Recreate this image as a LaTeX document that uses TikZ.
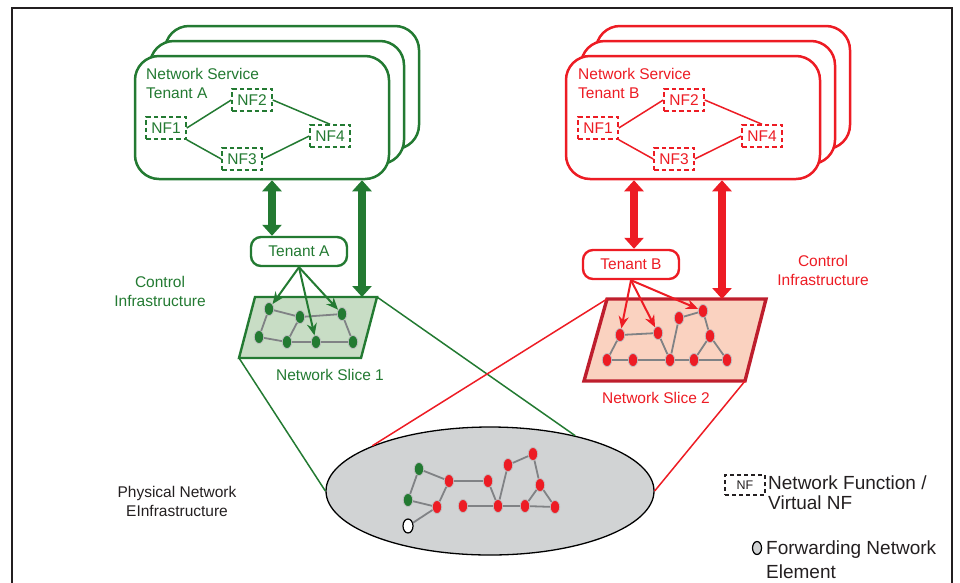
\documentclass[tikz,border=0pt]{standalone}
\usepackage{fontspec}
\setmainfont{Liberation Sans}
\usetikzlibrary{arrows.meta,shapes.geometric}
\definecolor{grA}{RGB}{35,122,50}
\definecolor{rdB}{RGB}{237,28,36}
\definecolor{rdS}{RGB}{190,30,45}
\definecolor{fillA}{RGB}{200,221,197}
\definecolor{fillB}{RGB}{250,210,192}
\definecolor{phyg}{RGB}{209,211,212}
\definecolor{wireg}{RGB}{128,130,133}
\definecolor{ink}{RGB}{35,31,32}
\tikzset{
	frame/.style={draw=ink, line width=2.6pt},
	stackA/.style={draw=grA, line width=2.5pt, fill=white, rounded corners=24pt, minimum width=254pt, minimum height=123pt, inner sep=0pt},
	stackB/.style={stackA, draw=rdB},
	nfA/.style={draw=grA, dash pattern=on 4.5pt off 3pt, line width=1.5pt, minimum width=40pt, minimum height=22pt, inner sep=0pt, text=grA},
	nfB/.style={nfA, draw=rdB, text=rdB},
	tenantA/.style={draw=grA, line width=2.4pt, rounded corners=10pt, minimum width=96pt, minimum height=29pt, inner sep=0pt, text=grA, fill=white},
	tenantB/.style={tenantA, draw=rdB, text=rdB},
	bigA/.style={draw=grA, line width=8.5pt, <->, >={Triangle[length=11pt,width=19pt]}},
	bigB/.style={bigA, draw=rdB},
	pickA/.style={draw=grA, line width=2pt, ->, >={Stealth[length=12pt,width=10pt]}},
	pickB/.style={pickA, draw=rdB},
	dotA/.style={ellipse, fill=grA, draw=wireg!50, line width=0.8pt, minimum width=9.5pt, minimum height=13pt, inner sep=0pt},
	dotB/.style={dotA, fill=rdB},
	wire/.style={draw=wireg, line width=1.8pt},
	linkA/.style={draw=grA, line width=1.5pt},
	linkB/.style={draw=rdB, line width=1.5pt}
}
\begin{document}
\begin{tikzpicture}[x=1pt,y=-1pt,font=\fontsize{15.5}{19}\selectfont]
	\useasboundingbox (0,0) rectangle (960,582);
	%%%%% FRAME %%%%%
	\draw[frame] (12,590) -- (12,8) -- (952,8) -- (952,590);
	
	%%%%% TENANT A %%%%%
	\node[stackA] (bA) at (292,87.5) {};
	\node[stackA] (mA) at (277,102.5) {};
	\node[stackA] (fA) at (262,117.5) {};
	\node[anchor=west, align=left, inner sep=0pt, text=grA] (nsA) at (146,83.5) {Network Service\\Tenant A};
	
	\node[nfA] (nA1) at (166,128) {NF1};
	\node[nfA] (nA2) at (252,100) {NF2};
	\node[nfA] (nA3) at (242,159) {NF3};
	\node[nfA] (nA4) at (330,136) {NF4};
	\draw[linkA] (nA1.east) -- (nA2.west);
	\draw[linkA] (nA1.south east) -- (nA3.west);
	\draw[linkA] (nA2.east) -- (nA4.north);
	\draw[linkA] (nA3.east) -- (nA4.west);
	
	\node[tenantA] (tA) at (299,251.5) {Tenant A};
	\node[align=center, text=grA] (ciA) at (160,291) {Control\\Infrastructure};
	
	%%%%% SLICE 1 %%%%%
	\coordinate (s1a) at (255,297);
	\coordinate (s1b) at (377,297);
	\coordinate (s1c) at (361,358);
	\coordinate (s1d) at (239,358);
	\draw[draw=grA, fill=fillA, line width=2.4pt] (s1a) -- (s1b) -- (s1c) -- (s1d) -- cycle;
	\node[text=grA] (slA) at (330,375) {Network Slice 1};
	
	\node[dotA] (a1) at (269,309) {};
	\node[dotA] (a2) at (300,317) {};
	\node[dotA] (a3) at (342,314) {};
	\node[dotA] (a4) at (259,337) {};
	\node[dotA] (a5) at (287,342) {};
	\node[dotA] (a6) at (316,342) {};
	\node[dotA] (a7) at (353,342) {};
	\draw[wire] (a1) -- (a2) (a1) -- (a4) (a2) -- (a5) (a4) -- (a5) (a5) -- (a6) (a2) -- (a3) (a3) -- (a7) (a6) -- (a7);
	
	\draw[bigA] (fA.south -| 272,0) -- (tA.north -| 272,0);
	\draw[bigA] (fA.south -| 362,0) -- (s1a -| 362,0);
	\draw[pickA] (tA.south) -- (a1);
	\draw[pickA] (tA.south) -- (a6);
	\draw[pickA] (tA.south) -- (a3);
	
	%%%%% TENANT B %%%%%
	\node[stackB] (bB) at (723,87.5) {};
	\node[stackB] (mB) at (708,102.5) {};
	\node[stackB] (fB) at (693,117.5) {};
	\node[anchor=west, align=left, inner sep=0pt, text=rdB] (nsB) at (578,83.5) {Network Service\\Tenant B};
	
	\node[nfB] (nB1) at (598,128) {NF1};
	\node[nfB] (nB2) at (684,100) {NF2};
	\node[nfB] (nB3) at (674,159) {NF3};
	\node[nfB] (nB4) at (762,136) {NF4};
	\draw[linkB] (nB1.east) -- (nB2.west);
	\draw[linkB] (nB1.south east) -- (nB3.west);
	\draw[linkB] (nB2.east) -- (nB4.north);
	\draw[linkB] (nB3.east) -- (nB4.west);
	
	\node[tenantB] (tB) at (631,264.5) {Tenant B};
	\node[align=center, text=rdB] (ciB) at (823,270) {Control\\Infrastructure};
	
	%%%%% SLICE 2 %%%%%
	\coordinate (s2a) at (607,299);
	\coordinate (s2b) at (766,299);
	\coordinate (s2c) at (745,381);
	\coordinate (s2d) at (584,381);
	\draw[draw=rdS, fill=fillB, line width=3.4pt] (s2a) -- (s2b) -- (s2c) -- (s2d) -- cycle;
	\node[text=rdB] (slB) at (656,398) {Network Slice 2};
	
	\node[dotB] (b1) at (620,335) {};
	\node[dotB] (b2) at (658,333) {};
	\node[dotB] (b3) at (679,318) {};
	\node[dotB] (b4) at (703,311) {};
	\node[dotB] (b5) at (607,360) {};
	\node[dotB] (b6) at (633,360) {};
	\node[dotB] (b7) at (670,360) {};
	\node[dotB] (b8) at (710,336) {};
	\node[dotB] (b9) at (694,360) {};
	\node[dotB] (b10) at (727,360) {};
	\draw[wire] (b1) -- (b2) (b1) -- (b5) (b5) -- (b6) (b6) -- (b7) (b2) -- (b7) (b7) -- (b3) (b3) -- (b4) (b4) -- (b8) (b8) -- (b9) (b8) -- (b10) (b7) -- (b9) (b9) -- (b10);
	
	\draw[bigB] (fB.south -| 634,0) -- (tB.north -| 634,0);
	\draw[bigB] (fB.south -| 722,0) -- (s2a -| 722,0);
	\draw[pickB] (tB.south) -- (b1);
	\draw[pickB] (tB.south) -- (b2);
	\draw[pickB] (tB.south) -- (b4);
	
	%%%%% PHYSICAL %%%%%
	\node[ellipse, draw=black, fill=phyg, line width=1.3pt, minimum width=328pt, minimum height=128pt, inner sep=0pt] (phy) at (490,491) {};
	\draw[linkA] (s1d) -- (phy.west);
	\draw[linkA] (s1b) -- (phy.33);
	\draw[linkB] (s2a) -- (phy.159);
	\draw[linkB] (s2c) -- (phy.east);
	\node[align=center, text=ink] (phyl) at (177,501) {Physical Network\\EInfrastructure};
	
	\node[dotA] (p1) at (419,469) {};
	\node[dotA] (p2) at (408,500) {};
	\node[dotB] (p3) at (449,481) {};
	\node[dotB] (p4) at (437,507) {};
	\node[dotA, fill=white, draw=black, line width=1.2pt, minimum width=10pt, minimum height=14pt] (p5) at (408,526) {};
	\node[dotB] (p6) at (463,506) {};
	\node[dotB] (p7) at (488,481) {};
	\node[dotB] (p8) at (498,506) {};
	\node[dotB] (p9) at (508,465) {};
	\node[dotB] (p10) at (533,454) {};
	\node[dotB] (p11) at (540,485) {};
	\node[dotB] (p12) at (525,506) {};
	\node[dotB] (p13) at (555,507) {};
	\draw[wire] (p1) -- (p2) (p1) -- (p3) (p2) -- (p4) (p3) -- (p4) (p4) -- (p5) (p3) -- (p7) (p7) -- (p8) (p6) -- (p8) (p8) -- (p9) (p9) -- (p10) (p10) -- (p11) (p8) -- (p12) (p12) -- (p11) (p11) -- (p13) (p12) -- (p13);
	
	%%%%% LEGEND %%%%%
	\node[draw=ink, dash pattern=on 4pt off 3pt, line width=1.5pt, minimum width=40pt, minimum height=20pt, inner sep=0pt, text=ink, font=\fontsize{12.5}{14}\selectfont] (lgnf) at (745,485) {NF};
	\node[anchor=west, align=left, inner sep=0pt, text=ink, font=\fontsize{19}{20}\selectfont] (lgnft) at (768,492.5) {Network Function /\\Virtual NF};
	\node[ellipse, fill=phyg, draw=black, line width=1.2pt, minimum width=9pt, minimum height=13pt, inner sep=0pt] (lgfe) at (757,548) {};
	\node[anchor=west, align=left, inner sep=0pt, text=ink, font=\fontsize{19}{24}\selectfont] (lgfet) at (766,560) {Forwarding Network\\Element};
	
\end{tikzpicture}
\end{document}
